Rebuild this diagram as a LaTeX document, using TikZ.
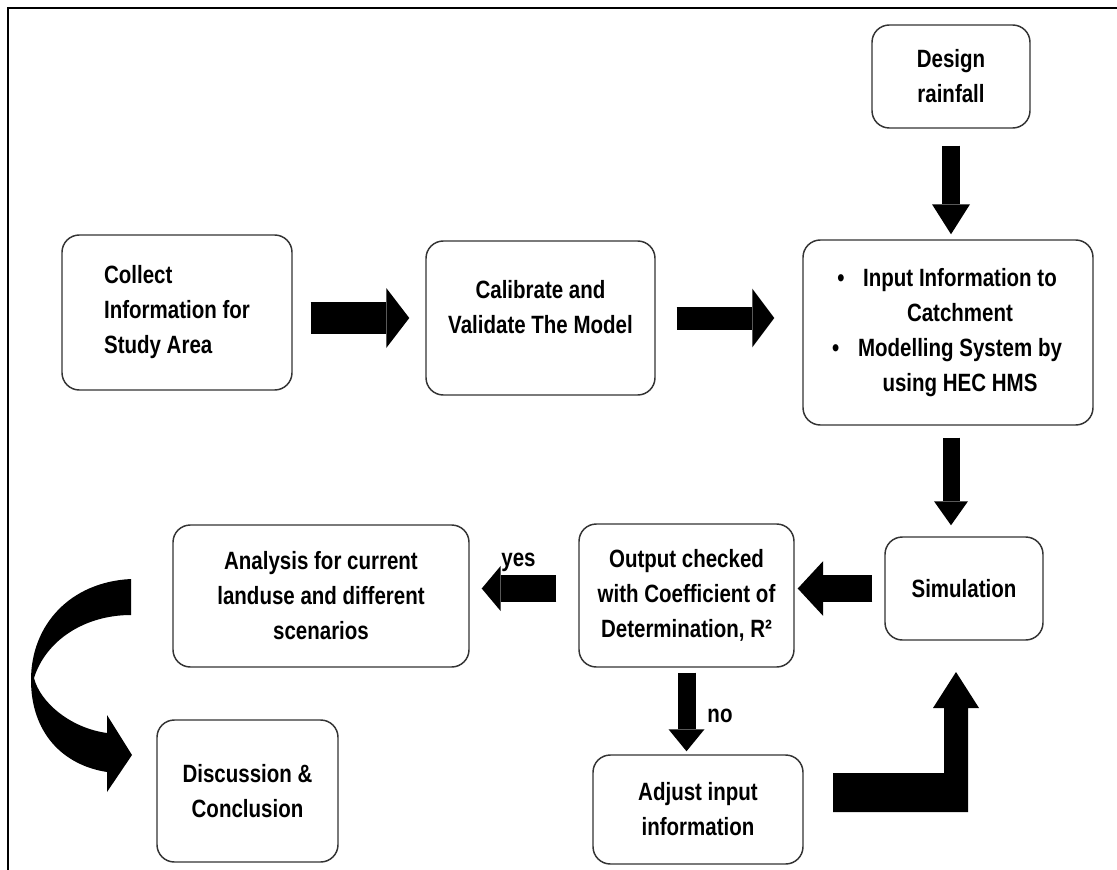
\documentclass[tikz,border=0pt]{standalone}
\usepackage{fontspec}
\setmainfont{Liberation Sans}[FakeStretch=0.82]
\usetikzlibrary{arrows.meta}

\tikzset{every picture/.style={line width=0.75pt}}
\tikzset{
  stage/.style={draw=black!80, line width=1.1pt, rounded corners=13pt, inner sep=0pt, align=center, font=\bfseries\fontsize{18.75pt}{26.25pt}\selectfont},
  answer/.style={inner sep=0pt, anchor=base, font=\bfseries\fontsize{18.75pt}{26.25pt}\selectfont},
  blk/.style n args={3}{line width=#1, -{Triangle[width=#2, length=#3, line width'=0pt]}}
}

\begin{document}
\begin{tikzpicture}[x=0.75pt,y=0.75pt,yscale=-1,xscale=1]
\useasboundingbox (0,0) rectangle (1117,870);

%Frame
\draw [line width=1.9pt] (8,870) -- (8,8) -- (1117,8) ;

% Text Node
\node [stage, minimum width=118.5pt, minimum height=77.25pt] (rain) at (951,76.5) {Design\\rainfall};
% Text Node
\node [stage, minimum width=172.5pt, minimum height=116.25pt, align=left] (collect) at (177,312.5) {Collect\\Information for\\Study Area};
% Text Node
\node [stage, minimum width=171.75pt, minimum height=115.5pt] (calib) at (540.5,318) {Calibrate and\\Validate The Model\\[-9pt]};
% Text Node
\node [stage, minimum width=217.5pt, minimum height=138.75pt] (input) at (948,332.5) {\hspace*{18pt}\llap{\textbullet\hspace{14pt}}Input Information to\\\hspace*{18pt}Catchment\\\hspace*{18pt}\llap{\textbullet\hspace{14pt}}Modelling System by\\\hspace*{18pt}using HEC HMS};
% Text Node
\node [stage, minimum width=118.5pt, minimum height=77.25pt] (sim) at (964,588.5) {Simulation};
% Text Node
\node [stage, minimum width=161.25pt, minimum height=107.25pt] (output) at (686.5,595.5) {Output checked\\with Coefficient of\\Determination, R²};
% Text Node
\node [stage, minimum width=222pt, minimum height=106.5pt] (analysis) at (321,596) {Analysis for current\\landuse and different\\scenarios};
% Text Node
\node [stage, minimum width=157.5pt, minimum height=81.75pt] (adjust) at (698,809.5) {Adjust input\\information};
% Text Node
\node [stage, minimum width=135.75pt, minimum height=106.5pt] (discuss) at (247.5,791) {Discussion \&\\Conclusion};
% Text Node
\node [answer] (yes) at (518.5,566) {yes};
% Text Node
\node [answer] (no) at (720,722) {no};

%Block Arrows
\draw [blk={13.5pt}{28.5pt}{22.5pt}, shorten <=12.75pt, shorten >=3.75pt] (rain.south) -- (rain.south |- input.north) ;
\draw [blk={24pt}{45pt}{17.25pt}, shorten <=13.5pt, shorten >=12pt] (collect.east |- calib.west) -- (calib.west) ;
\draw [blk={17.25pt}{44pt}{16.5pt}, shorten <=15.75pt, shorten >=21pt] (calib.east) -- (calib.east -| input.west) ;
\draw [blk={12.75pt}{25.5pt}{18pt}, shorten <=9pt, shorten >=8.25pt] (input.south -| rain.south) -- (rain.south |- sim.north) ;
\draw [blk={20.25pt}{41pt}{19pt}, shorten <=9pt, shorten >=2.25pt] (sim.west) -- (sim.west -| output.east) ;
\draw [blk={20.25pt}{34pt}{14.25pt}, shorten <=16.5pt, shorten >=9pt] (output.west |- sim.west) -- (analysis.east |- sim.west) ;
\draw [blk={13.5pt}{27pt}{16.5pt}, shorten <=3.75pt, shorten >=2.25pt] (output.south) -- (output.south |- adjust.north) ;

%Shape: Bent Arrow
\fill (833,773) -- (944,773) -- (944,708) -- (933,708) -- (956,672) -- (979,708) -- (968,708) -- (968,812) -- (833,812) -- cycle ;
%Shape: Curved Arrow
\fill (131,579) .. controls (70,582) and (31,625) .. (31,680) .. controls (31,732) and (62,765) .. (107,772) -- (107,792) -- (132,755) -- (107,715) -- (107,733) .. controls (70,728) and (40,702) .. (34,678) .. controls (46,640) and (85,615) .. (131,615) -- cycle ;

\end{tikzpicture}
\end{document}
